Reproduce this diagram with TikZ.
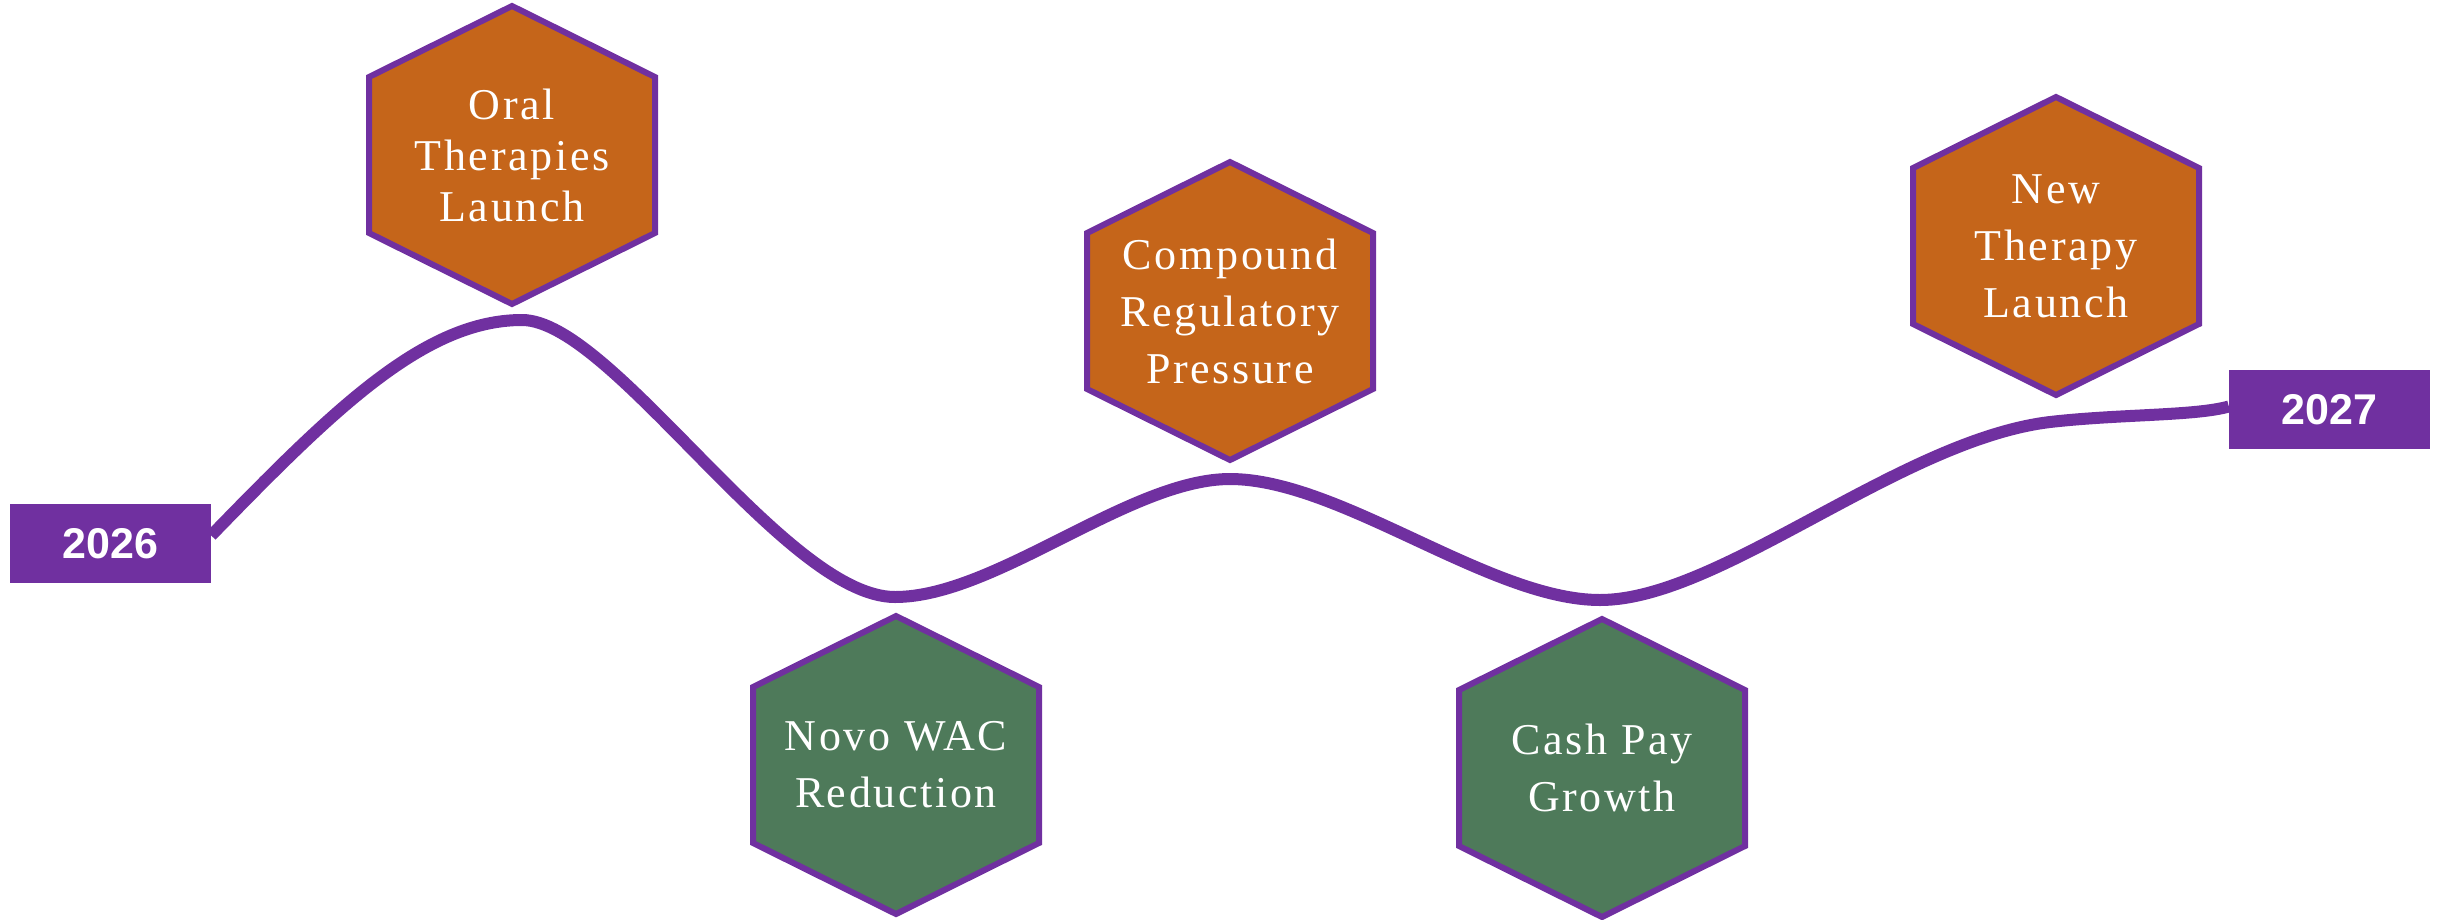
\documentclass[tikz,border=0pt]{standalone}
\usepackage{fontspec}
\setmainfont{Liberation Serif}[LetterSpace=6]
\newfontfamily\labfont{Liberation Sans}
\usetikzlibrary{calc}
\definecolor{tlpurple}{HTML}{7030A0}
\definecolor{tlorange}{HTML}{C5651A}
\definecolor{tlgreen}{HTML}{4E7A5A}
\pgfdeclarelayer{background}
\pgfsetlayers{background,main}
\tikzset{
  hexline/.style={draw=tlpurple, line width=6pt, line join=miter},
  hextext/.style={text=white, align=center, inner sep=0pt, font=\fontsize{44}{57}\selectfont},
  yearbox/.style={fill=tlpurple, text=white, minimum width=201pt, minimum height=79pt, inner sep=0pt, font=\labfont\bfseries\fontsize{43}{50}\selectfont},
  wave/.style={draw=tlpurple, line width=12pt},
}
\newcommand{\hexat}[2]{\path[hexline, fill=#2] (#1) ++(0,-149) -- ++(143,71) -- ++(0,156) -- ++(-143,71) -- ++(-143,-71) -- ++(0,-156) -- cycle;}
\begin{document}
\begin{tikzpicture}[x=1pt,y=-1pt]
\useasboundingbox (0,0) rectangle (2441,919);

% year boxes
\node[yearbox] (y26) at (110.5,543.5) {2026};
\node[yearbox] (y27) at (2329.5,409.5) {2027};

% hexagon centres
\coordinate (coral) at (512,155);
\coordinate (cnovo) at (896,765);
\coordinate (ccomp) at (1230,311);
\coordinate (ccash) at (1602,768);
\coordinate (cnewt) at (2056,246);

\hexat{coral}{tlorange}
\hexat{cnovo}{tlgreen}
\hexat{ccomp}{tlorange}
\hexat{ccash}{tlgreen}
\hexat{cnewt}{tlorange}

\node[hextext, font=\fontsize{44}{51}\selectfont] (oral) at (coral) {Oral\\Therapies\\Launch};
\node[hextext] (novo) at (cnovo) {Novo WAC\\Reduction};
\node[hextext] (comp) at (ccomp) {Compound\\Regulatory\\Pressure};
\node[hextext] (cash) at (ccash) {Cash Pay\\Growth};
\node[hextext] (newt) at (cnewt) {New\\Therapy\\Launch};

% wave
\coordinate (w0) at ($(y26.east)+(0,-8)$);
\coordinate (w1) at ($(y27.west)+(0,-3)$);
\coordinate (p1) at (522,320);
\coordinate (t1) at (895,597);
\coordinate (p2) at (1230,479);
\coordinate (t2) at (1600,600);
\coordinate (f1) at (2050,422);
\begin{pgfonlayer}{background}
\draw[wave] (w0) .. controls (335,408) and (425,320) .. (p1)
  .. controls (612,320) and (785,597) .. (t1)
  .. controls (995,597) and (1130,479) .. (p2)
  .. controls (1340,479) and (1490,600) .. (t2)
  .. controls (1720,600) and (1900,440) .. (f1)
  .. controls (2120,414) and (2195,416) .. (w1);
\end{pgfonlayer}
\end{tikzpicture}
\end{document}
